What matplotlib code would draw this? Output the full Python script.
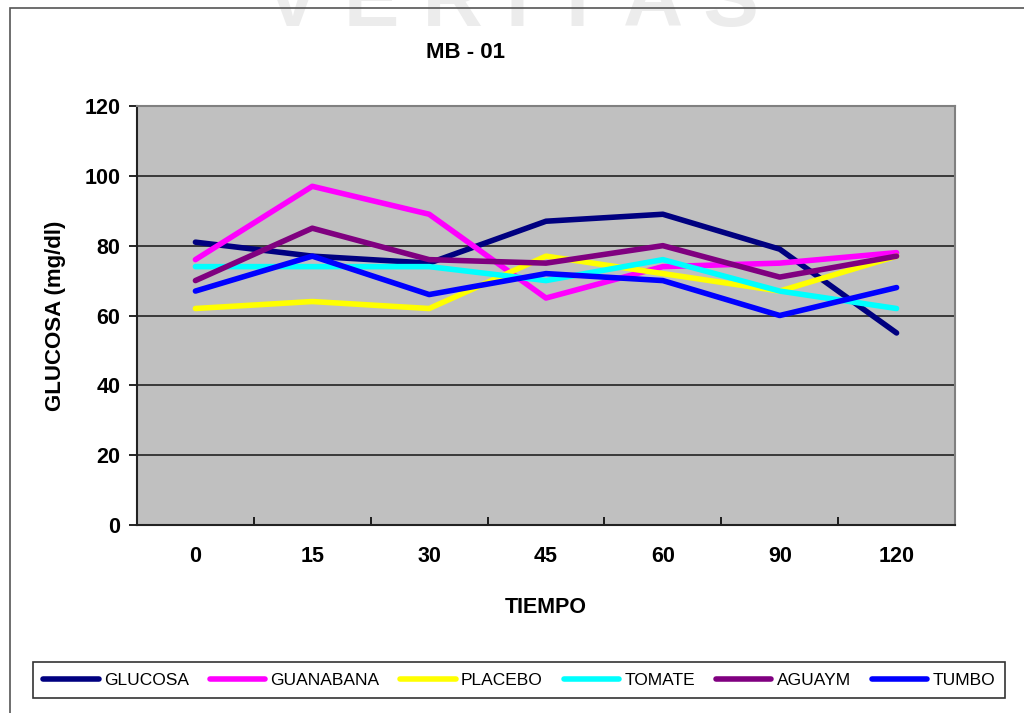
import matplotlib
matplotlib.use("Agg")
import matplotlib.pyplot as plt
from matplotlib.patches import Rectangle

# tiempos (min) y glucosa (mg/dl) por grupo
tiempo = ["0", "15", "30", "45", "60", "90", "120"]
glucosa = [81, 77, 75, 87, 89, 79, 55]
guanabana = [76, 97, 89, 65, 74, 75, 78]
placebo = [62, 64, 62, 77, 72, 67, 77]
tomate = [74, 74, 74, 70, 76, 67, 62]
aguaym = [70, 85, 76, 75, 80, 71, 77]
tumbo = [67, 77, 66, 72, 70, 60, 68]

series = [
    ("GLUCOSA", glucosa, "#000080"),
    ("GUANABANA", guanabana, "#FF00FF"),
    ("PLACEBO", placebo, "#FFFF00"),
    ("TOMATE", tomate, "#00FFFF"),
    ("AGUAYM", aguaym, "#800080"),
    ("TUMBO", tumbo, "#0000FF"),
]

plt.rcParams["font.family"] = ["Liberation Sans", "DejaVu Sans"]

fig = plt.figure(figsize=(10.24, 7.13), dpi=100)
# watermark + outer border
fig.text(0.5, 0.995, "V E R I T A S", ha="center", va="center", fontsize=60,
         color="#ececec", fontweight="bold", zorder=0)
fig.patches.append(Rectangle((10 / 1024, -0.01), 1.2, 1 - 8 / 713 + 0.01,
                             transform=fig.transFigure, fill=False,
                             edgecolor="#555555", lw=1.2))

ax = fig.add_axes([137 / 1024, 1 - 525 / 713, (955 - 137) / 1024, (525 - 106) / 713])
ax.set_facecolor("#C0C0C0")

x = list(range(len(tiempo)))
for name, vals, col in series:
    ax.plot(x, vals, color=col, lw=4, label=name, solid_capstyle="round")

ax.set_xlim(-0.5, len(tiempo) - 0.5)
ax.set_ylim(0, 120)
ax.set_yticks(range(0, 121, 20))
ax.yaxis.grid(True, color="#222222", lw=1.2)
ax.set_axisbelow(True)

ax.set_xticks(x)
ax.set_xticklabels(tiempo, fontsize=15.5, fontweight="bold")
ax.set_xticks([i + 0.5 for i in range(len(tiempo) - 1)], minor=True)
ax.tick_params(axis="x", which="major", length=0, pad=15)
ax.tick_params(axis="x", which="minor", direction="in", length=6, width=1.2)
ax.tick_params(axis="y", direction="out", length=6, width=1.2, labelsize=15.5, pad=6)
for lab in ax.get_yticklabels():
    lab.set_fontweight("bold")

for side in ["left", "bottom"]:
    ax.spines[side].set_color("#222222")
    ax.spines[side].set_linewidth(1.5)
for side in ["top", "right"]:
    ax.spines[side].set_color("#808080")
    ax.spines[side].set_linewidth(1.5)

ax.set_ylabel("GLUCOSA (mg/dl)", fontsize=16, fontweight="bold", labelpad=13)
ax.set_xlabel("TIEMPO", fontsize=15.5, fontweight="bold", labelpad=22)
fig.text(466 / 1024, 1 - 52 / 713, "MB - 01", ha="center", va="center",
         fontsize=16, fontweight="bold")

leg = fig.legend(loc="center", bbox_to_anchor=(519 / 1024, 1 - 680 / 713),
                 ncol=6, fontsize=12.5, frameon=True, fancybox=False,
                 handlelength=3.2, handletextpad=0.3, columnspacing=1.2,
                 borderpad=0.6)
leg.get_frame().set_edgecolor("black")
leg.get_frame().set_linewidth(1.2)

fig.savefig("out.png", dpi=100)
